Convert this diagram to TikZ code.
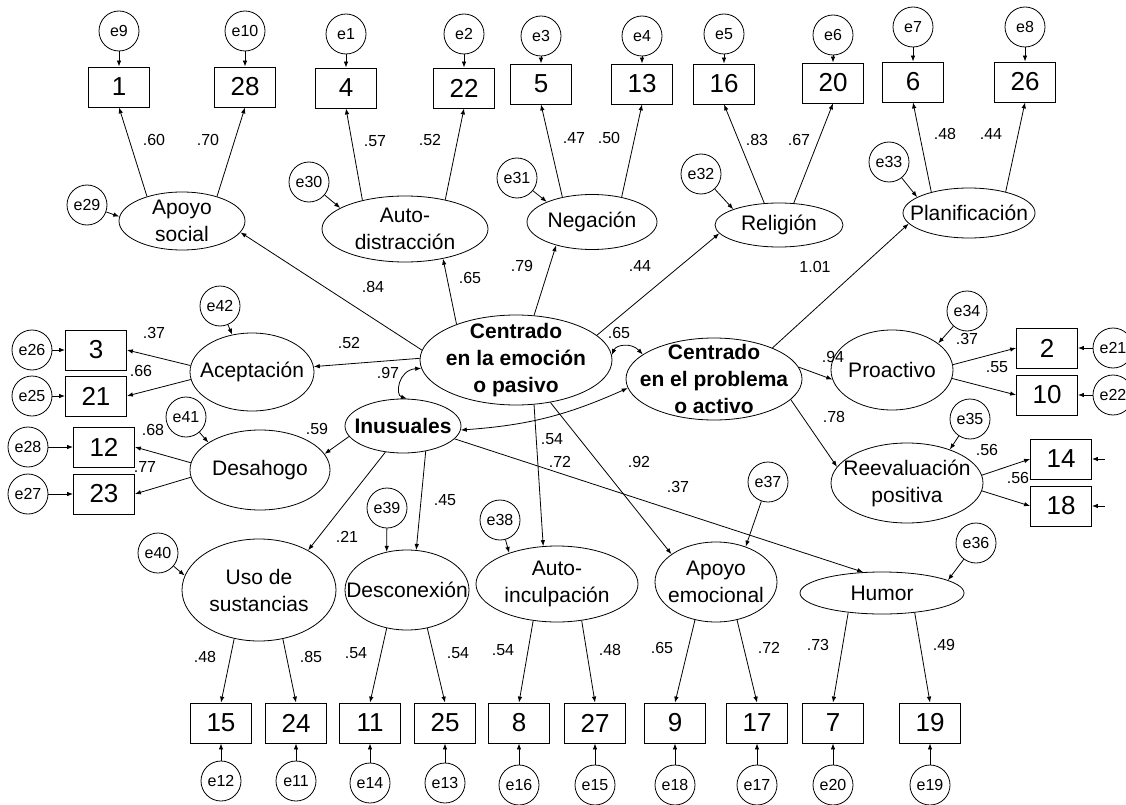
\documentclass[tikz,border=0pt]{standalone}
\usepackage{fontspec}
\setmainfont{Liberation Sans}
\usetikzlibrary{shapes.geometric,arrows.meta}
\begin{document}
\begin{tikzpicture}[x=1pt,y=-1pt,line width=0.8pt,
  lat/.style={ellipse,draw,inner sep=-200pt,align=center,font=\fontsize{21}{27}\selectfont},
  latb/.style={lat,font=\fontsize{21}{27}\selectfont\bfseries},
  obs/.style={rectangle,draw,minimum width=61pt,minimum height=40pt,inner sep=0pt,font=\fontsize{26}{30}\selectfont},
  err/.style={circle,draw,minimum size=40pt,inner sep=0pt,font=\fontsize{16}{18}\selectfont},
  coef/.style={inner sep=0pt,font=\fontsize{16}{18}\selectfont},
  arr/.style={-{Latex[length=6pt,width=4.5pt]}},
  cov/.style={{Latex[length=6pt,width=4.5pt]}-{Latex[length=6pt,width=4.5pt]}}]
\useasboundingbox (0,0) rectangle (1126,805);
% ---------- observed variables ----------
\node[obs] (b1)  at (119,87) {1};
\node[obs] (b28) at (245,87) {28};
\node[obs] (b4)  at (346,88) {4};
\node[obs] (b22) at (464,88) {22};
\node[obs] (b5)  at (541,84) {5};
\node[obs] (b13) at (642,84) {13};
\node[obs] (b16) at (724,84) {16};
\node[obs] (b20) at (833,83) {20};
\node[obs] (b6)  at (913,82) {6};
\node[obs] (b26) at (1025,82) {26};
\node[obs] (b3)  at (96,350) {3};
\node[obs] (b21) at (96,396) {21};
\node[obs] (b12) at (104,447) {12};
\node[obs] (b23) at (104,494) {23};
\node[obs] (b2)  at (1047,348) {2};
\node[obs] (b10) at (1047,395) {10};
\node[obs] (b14) at (1061,459) {14};
\node[obs] (b18) at (1061,506) {18};
\node[obs] (b15) at (221,723) {15};
\node[obs] (b24) at (296,723) {24};
\node[obs] (b11) at (370,723) {11};
\node[obs] (b25) at (445,723) {25};
\node[obs] (b8)  at (519,723) {8};
\node[obs] (b27) at (595,723) {27};
\node[obs] (b9)  at (675,723) {9};
\node[obs] (b17) at (757,723) {17};
\node[obs] (b7)  at (833,723) {7};
\node[obs] (b19) at (930,723) {19};
% ---------- errors of observed ----------
\node[err] (e9)  at (119,31) {e9};
\node[err] (e10) at (245,31) {e10};
\node[err] (e1)  at (346,34) {e1};
\node[err] (e2)  at (464,34) {e2};
\node[err] (e3)  at (541,36) {e3};
\node[err] (e4)  at (642,36) {e4};
\node[err] (e5)  at (724,34) {e5};
\node[err] (e6)  at (833,35) {e6};
\node[err] (e7)  at (913,27) {e7};
\node[err] (e8)  at (1025,27) {e8};
\node[err] (e26) at (32,350) {e26};
\node[err] (e25) at (32,396) {e25};
\node[err] (e28) at (28,447) {e28};
\node[err] (e27) at (28,494) {e27};
\node[err] (e21) at (1113,348) {e21};
\node[err] (e22) at (1113,395) {e22};
\coordinate (c14) at (1105,459);
\coordinate (c18) at (1105,506);
\node[err] (e12) at (221,781) {e12};
\node[err] (e11) at (296,781) {e11};
\node[err] (e14) at (370,783) {e14};
\node[err] (e13) at (445,783) {e13};
\node[err] (e16) at (519,785) {e16};
\node[err] (e15) at (595,785) {e15};
\node[err] (e18) at (675,785) {e18};
\node[err] (e17) at (757,785) {e17};
\node[err] (e20) at (833,785) {e20};
\node[err] (e19) at (930,785) {e19};
% ---------- latent variables ----------
\node[lat,minimum width=126pt,minimum height=58pt] (apoyo) at (182,221) {Apoyo\\social};
\node[lat,minimum width=166pt,minimum height=66pt] (autod) at (405,229) {Auto-\\distracción};
\node[lat,minimum width=130pt,minimum height=55pt] (neg) at (592,222) {Negación};
\node[lat,minimum width=128pt,minimum height=44pt] (rel) at (779,225) {Religión};
\node[lat,minimum width=132pt,minimum height=50pt] (plan) at (969,213) {Planificación};
\node[latb,minimum width=192pt,minimum height=90pt] (emo) at (516,360) {Centrado\\en la emoción\\o pasivo};
\node[latb,minimum width=176pt,minimum height=82pt] (prob) at (714,379) {Centrado\\en el problema\\o activo};
\node[latb,minimum width=116pt,minimum height=54pt] (inus) at (403,426) {Inusuales};
\node[lat,minimum width=124pt,minimum height=78pt] (acep) at (252,372) {Aceptación};
\node[lat,minimum width=140pt,minimum height=80pt] (desa) at (260,470) {Desahogo};
\node[lat,minimum width=122pt,minimum height=80pt] (proa) at (892,370) {Proactivo};
\node[lat,minimum width=152pt,minimum height=80pt] (reev) at (907,483) {Reevaluación\\positiva};
\node[lat,minimum width=154pt,minimum height=102pt] (uso) at (259,590) {Uso de\\sustancias};
\node[lat,minimum width=124pt,minimum height=80pt] (desc) at (407,590) {Desconexión};
\node[lat,minimum width=162pt,minimum height=76pt] (autoi) at (557,584) {Auto-\\inculpación};
\node[lat,minimum width=122pt,minimum height=80pt] (apemo) at (716,582) {Apoyo\\emocional};
\node[lat,minimum width=164pt,minimum height=42pt] (humor) at (882,593) {Humor};
% ---------- errors of latents ----------
\node[err] (e29) at (87,205) {e29};
\node[err] (e30) at (309,182) {e30};
\node[err] (e31) at (517,178) {e31};
\node[err] (e32) at (701,174) {e32};
\node[err] (e33) at (889,162) {e33};
\node[err] (e42) at (220,306) {e42};
\node[err] (e41) at (186,417) {e41};
\node[err] (e34) at (967,311) {e34};
\node[err] (e35) at (970,419) {e35};
\node[err] (e40) at (158,553) {e40};
\node[err] (e39) at (387,508) {e39};
\node[err] (e38) at (500,520) {e38};
\node[err] (e37) at (768,482) {e37};
\node[err] (e36) at (976,543) {e36};
% ---------- error arrows to observed ----------
\foreach \e/\b in {e9/b1,e10/b28,e1/b4,e2/b22,e3/b5,e4/b13,e5/b16,e6/b20,e7/b6,e8/b26,
  e26/b3,e25/b21,e28/b12,e27/b23,e21/b2,e22/b10,
  e12/b15,e11/b24,e14/b11,e13/b25,e16/b8,e15/b27,e18/b9,e17/b17,e20/b7,e19/b19}
  \draw[arr] (\e) -- (\b);
\draw[arr] (c14) -- (b14.east);
\draw[arr] (c18) -- (b18.east);
% ---------- error arrows to latents ----------
\draw[arr] (e29) -- (apoyo.176);
\draw[arr] (e30) -- (autod.162);
\draw[arr] (e31) -- (neg.156);
\draw[arr] (e32) -- (rel.161);
\draw[arr] (e33) -- (plan.163);
\draw[arr] (e42) -- (acep.118);
\draw[arr] (e41) -- (desa.152);
\draw[arr] (e34) -- (proa.30);
\draw[arr] (e35) -- (reev.38);
\draw[arr] (e40) -- (uso.169);
\draw[arr] (e39) -- (desc.118);
\draw[arr] (e38) -- (autoi.147);
\draw[arr] (e37) -- (apemo.50);
\draw[arr] (e36) -- (humor.11);
% ---------- loadings ----------
\draw[arr] (apoyo.145) -- (b1.south);
\draw[arr] (apoyo.35) -- (b28.south);
\draw[arr] (autod.146) -- (b4.south);
\draw[arr] (autod.36) -- (b22.south);
\draw[arr] (neg.140) -- (b5.south);
\draw[arr] (neg.40) -- (b13.south);
\draw[arr] (rel.124) -- (b16.south);
\draw[arr] (rel.56) -- (b20.south);
\draw[arr] (plan.151) -- (b6.south);
\draw[arr] (plan.30) -- (b26.south);
\draw[arr] (acep.174) -- (b3.east);
\draw[arr] (acep.187) -- (b21.east);
\draw[arr] (desa.174) -- (b12.east);
\draw[arr] (desa.186) -- (b23.east);
\draw[arr] (proa.5) -- (b2.west);
\draw[arr] (proa.-8) -- (b10.west);
\draw[arr] (reev.6) -- (b14.west);
\draw[arr] (reev.-6) -- (b18.west);
\draw[arr] (uso.-117) -- (b15.north);
\draw[arr] (uso.-64) -- (b24.north);
\draw[arr] (desc.-118) -- (b11.north);
\draw[arr] (desc.-62) -- (b25.north);
\draw[arr] (autoi.-123) -- (b8.north);
\draw[arr] (autoi.-56) -- (b27.north);
\draw[arr] (apemo.-119) -- (b9.north);
\draw[arr] (apemo.-61) -- (b17.north);
\draw[arr] (humor.-150) -- (b7.north);
\draw[arr] (humor.-31) -- (b19.north);
% ---------- structural paths ----------
\draw[arr] (emo.174) -- (apoyo.-11);
\draw[arr] (emo.149) -- (autod.-38);
\draw[arr] (emo.68) -- (neg.-147);
\draw[arr] (emo.17) -- (rel.188);
\draw[arr] (emo.179) -- (acep.5);
\draw[arr] (emo.-68) -- (autoi.110);
\draw[arr] (emo.-51) -- (apemo.148);
\draw[arr] (inus.191) -- (desa.14);
\draw[arr] (inus.236) -- (uso.39);
\draw[arr] (inus.-48) -- (desc.77);
\draw[arr] (inus.-14) -- (humor.132);
\draw[arr] (prob.28) -- (plan.-170);
\draw[arr] (prob.8) -- (proa.189);
\draw[arr] (prob.-15) -- (reev.167);
% ---------- covariances ----------
\draw[cov] (emo.185) .. controls (398,370) and (395,395) .. (inus.82);
\draw[cov] (emo.3) .. controls (616,345) and (631,342) .. (prob.161);
\draw[cov] (inus.-4) to[bend right=10] (prob.186);
% ---------- coefficients ----------
\node[coef] (l1) at (154,140) {.60};
\node[coef] (l2) at (208,140) {.70};
\node[coef] (l3) at (375,141) {.57};
\node[coef] (l4) at (430,140) {.52};
\node[coef] (l5) at (574,138) {.47};
\node[coef] (l6) at (609,138) {.50};
\node[coef] (l7) at (757,140) {.83};
\node[coef] (l8) at (799,140) {.67};
\node[coef] (l9) at (945,134) {.48};
\node[coef] (l10) at (991,134) {.44};
\node[coef] (l11) at (373,287) {.84};
\node[coef] (l12) at (470,278) {.65};
\node[coef] (l13) at (522,266) {.79};
\node[coef] (l14) at (640,266) {.44};
\node[coef] (l15) at (815,267) {1.01};
\node[coef] (l16) at (154,333) {.37};
\node[coef] (l17) at (141,371) {.66};
\node[coef] (l18) at (349,343) {.52};
\node[coef] (l19) at (388,373) {.97};
\node[coef] (l20) at (153,430) {.68};
\node[coef] (l21) at (145,467) {.77};
\node[coef] (l22) at (317,429) {.59};
\node[coef] (l23) at (445,500) {.45};
\node[coef] (l24) at (347,537) {.21};
\node[coef] (l25) at (619,333) {.65};
\node[coef] (l26) at (552,439) {.54};
\node[coef] (l27) at (560,462) {.72};
\node[coef] (l28) at (639,462) {.92};
\node[coef] (l29) at (678,487) {.37};
\node[coef] (l30) at (833,357) {.94};
\node[coef] (l31) at (967,339) {.37};
\node[coef] (l32) at (997,367) {.55};
\node[coef] (l33) at (834,417) {.78};
\node[coef] (l34) at (987,450) {.56};
\node[coef] (l35) at (1018,478) {.56};
\node[coef] (l36) at (205,657) {.48};
\node[coef] (l37) at (311,657) {.85};
\node[coef] (l38) at (356,653) {.54};
\node[coef] (l39) at (458,653) {.54};
\node[coef] (l40) at (503,650) {.54};
\node[coef] (l41) at (610,650) {.48};
\node[coef] (l42) at (662,648) {.65};
\node[coef] (l43) at (769,648) {.72};
\node[coef] (l44) at (818,645) {.73};
\node[coef] (l45) at (944,645) {.49};
\end{tikzpicture}
\end{document}
